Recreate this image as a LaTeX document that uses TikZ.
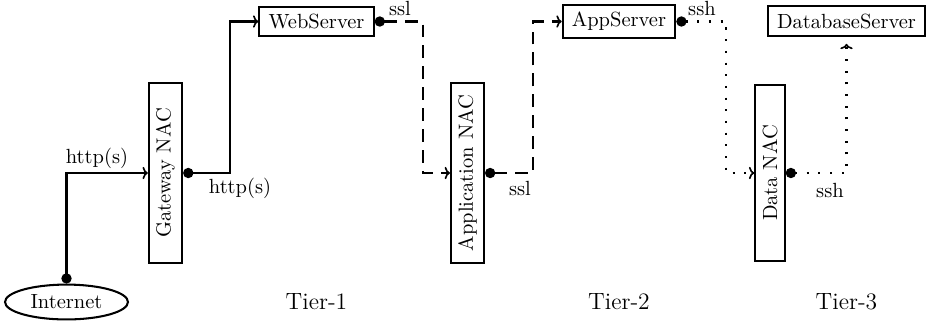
\documentclass[tikz,border=0pt]{standalone}
\usetikzlibrary{arrows.meta,shapes.geometric}
\begin{document}
\begin{tikzpicture}[x=0.4878pt,y=-0.4878pt,
  box/.style={draw,line width=1pt,rectangle,inner xsep=4.5pt,inner ysep=3.5pt,font=\normalsize},
  nac/.style={box,rotate=90,minimum width=87.8pt},
  conn/.style={line width=1pt,{Circle[length=5pt]}-{To[length=2.6pt,width=6pt,line width=0.8pt]}},
  dsh/.style={dash pattern=on 6.3pt off 3.9pt},
  dts/.style={dash pattern=on 1pt off 4.7pt},
  lbl/.style={inner sep=0pt,font=\normalsize},
  tier/.style={inner sep=0pt,font=\fontsize{11.5}{14}\selectfont}]
\useasboundingbox (0,0) rectangle (932,321);
\node[draw,line width=1pt,ellipse,minimum width=60pt,minimum height=17pt,inner sep=1pt] (inet) at (66.5,302) {Internet};
\node[nac] (gw) at (165.5,173) {Gateway NAC};
\node[box] (web) at (316.5,21.5) {WebServer};
\node[nac] (appnac) at (467.5,173) {Application NAC};
\node[box] (app) at (619,21.5) {AppServer};
\node[nac,minimum width=85.4pt] (datanac) at (770,173) {Data NAC};
\node[box] (db) at (846.5,21) {DatabaseServer};
\draw[conn] (inet.north) |- (gw.north);
\draw[conn] (gw.south) -- ++(47,0) |- (web.west);
\draw[conn,dsh] (web.east) -- ++(48,0) |- (appnac.north);
\draw[conn,dsh] (appnac.south) -- ++(48,0) |- (app.west);
\draw[conn,dts] (app.east) -- ++(50,0) |- (datanac.north);
\draw[conn,dts,shorten >=3.5pt] (datanac.south) -| (db.south);
\node[lbl] (l1) at (97,158) {http(s)};
\node[lbl] (l2) at (240,188) {http(s)};
\node[lbl] (l3) at (400,8) {ssl};
\node[lbl] (l4) at (520,188) {ssl};
\node[lbl] (l5) at (702,8) {ssh};
\node[lbl] (l6) at (830,190) {ssh};
\node[tier] (t1) at (316.5,302) {Tier-1};
\node[tier] (t2) at (619,302) {Tier-2};
\node[tier] (t3) at (846.5,302) {Tier-3};
\end{tikzpicture}
\end{document}
